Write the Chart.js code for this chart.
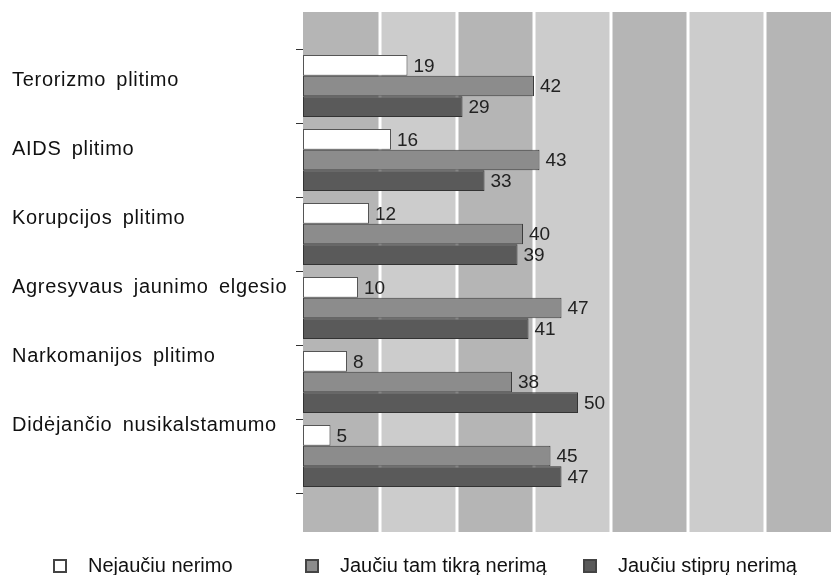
<!DOCTYPE html>
<html>
<head>
<meta charset="utf-8">
<script src="https://cdn.jsdelivr.net/npm/chart.js@4"></script>
<style>
  html, body { margin: 0; padding: 0; background: #fff; }
  #wrap { width: 831px; height: 575px; }
</style>
</head>
<body>
<div id="wrap"><canvas id="chart"></canvas></div>
<script>
const categories = ['Terorizmo plitimo', 'AIDS plitimo', 'Korupcijos plitimo',
    'Agresyvaus jaunimo elgesio', 'Narkomanijos plitimo', 'Didėjančio nusikalstamumo'];
const seriesNames = ['Nejaučiu nerimo', 'Jaučiu tam tikrą nerimą', 'Jaučiu stiprų nerimą'];
const nejauciu = [19, 16, 12, 10, 8, 5];
const tamTikra = [42, 43, 40, 47, 38, 45];
const stipru = [29, 33, 39, 41, 50, 47];
const xMax = 96;
const xStep = 14;

const FONT = 'Liberation Sans, Arial, Helvetica, sans-serif';

// striped background, reaching half a category above and below the axis
const bandsPlugin = {
    id: 'bands',
    beforeDatasetsDraw(chart) {
        const ctx = chart.ctx;
        const x = chart.scales.x;
        const area = chart.chartArea;
        const catH = (area.bottom - area.top) / categories.length;
        const top = area.top - catH / 2;
        const bottom = area.bottom + catH / 2 + 2;
        const ticks = x.ticks.map(t => t.value);
        ctx.save();
        for (let i = 0; i < ticks.length - 1; i++) {
            const x0 = x.getPixelForValue(ticks[i]);
            const x1 = x.getPixelForValue(ticks[i + 1]);
            ctx.fillStyle = i % 2 === 0 ? '#b5b5b5' : '#cccccc';
            ctx.fillRect(x0, top, x1 - x0, bottom - top);
        }
        ctx.strokeStyle = '#ffffff';
        ctx.lineWidth = 3;
        for (let i = 1; i < ticks.length - 1; i++) {
            const px = Math.round(x.getPixelForValue(ticks[i]));
            ctx.beginPath();
            ctx.moveTo(px, top);
            ctx.lineTo(px, bottom);
            ctx.stroke();
        }
        ctx.restore();
    }
};

const valuesPlugin = {
    id: 'values',
    afterDatasetsDraw(chart) {
        const ctx = chart.ctx;
        ctx.save();
        ctx.font = '19px ' + FONT;
        ctx.fillStyle = '#222';
        ctx.textAlign = 'left';
        ctx.textBaseline = 'middle';
        chart.data.datasets.forEach((ds, di) => {
            chart.getDatasetMeta(di).data.forEach((bar, i) => {
                ctx.fillText(ds.data[i], bar.x + 6, bar.y + 1);
            });
        });
        ctx.restore();
    }
};

// category names, left aligned, drifting slightly upward like the original
const namesPlugin = {
    id: 'names',
    afterDraw(chart) {
        const ctx = chart.ctx;
        const y = chart.scales.y;
        const area = chart.chartArea;
        const catH = (area.bottom - area.top) / categories.length;
        ctx.save();
        ctx.font = '20px ' + FONT;
        ctx.letterSpacing = '0.7px';
        ctx.wordSpacing = '4px';
        ctx.fillStyle = '#111';
        ctx.textAlign = 'left';
        ctx.textBaseline = 'middle';
        categories.forEach((name, i) => {
            const py = y.getPixelForValue(i) - catH * (0.07 + 0.068 * i);
            ctx.fillText(name, 12, py);
        });
        ctx.restore();
    }
};

// legend row under the plot, items placed in fixed columns like the original
const legendPlugin = {
    id: 'legendRow',
    afterDraw(chart) {
        const ctx = chart.ctx;
        const cols = [53, 305, 583];
        const cy = 566;
        ctx.save();
        ctx.font = '20px ' + FONT;
        ctx.textAlign = 'left';
        ctx.textBaseline = 'middle';
        chart.data.datasets.forEach((ds, i) => {
            const x0 = cols[i];
            ctx.fillStyle = ds.backgroundColor;
            ctx.fillRect(x0 + 1, cy - 6, 12, 12);
            ctx.strokeStyle = '#444';
            ctx.lineWidth = 2;
            ctx.strokeRect(x0 + 1, cy - 6, 12, 12);
            ctx.fillStyle = '#111';
            ctx.fillText(ds.label, x0 + 35, cy);
        });
        ctx.restore();
    }
};

new Chart(document.getElementById('chart'), {
    type: 'bar',
    data: {
        labels: categories,
        datasets: [{
            label: seriesNames[0],
            data: nejauciu,
            backgroundColor: '#ffffff',
            borderColor: '#555555'
        }, {
            label: seriesNames[1],
            data: tamTikra,
            backgroundColor: '#8c8c8c',
            borderColor: '#3c3c3c'
        }, {
            label: seriesNames[2],
            data: stipru,
            backgroundColor: '#5a5a5a',
            borderColor: '#333333'
        }]
    },
    options: {
        indexAxis: 'y',
        responsive: true,
        maintainAspectRatio: false,
        animation: false,
        datasets: {
            bar: {
                borderWidth: 1,
                borderSkipped: false,
                categoryPercentage: 0.84,
                barPercentage: 1
            }
        },
        layout: { padding: { top: 49, left: 0, right: 0, bottom: 75 } },
        scales: {
            x: {
                min: 0,
                max: xMax,
                ticks: { display: false, stepSize: xStep },
                grid: { display: false },
                border: { display: false },
                afterFit(scale) { scale.height = 7; }
            },
            y: {
                ticks: { display: false },
                grid: {
                    drawOnChartArea: false,
                    drawTicks: true,
                    tickLength: 7,
                    color: '#333'
                },
                border: { display: true, color: '#333', width: 1 },
                afterFit(scale) { scale.width = 303; }
            }
        },
        plugins: {
            legend: { display: false },
            tooltip: { enabled: false }
        }
    },
    plugins: [bandsPlugin, valuesPlugin, namesPlugin, legendPlugin]
});
</script>
</body>
</html>
